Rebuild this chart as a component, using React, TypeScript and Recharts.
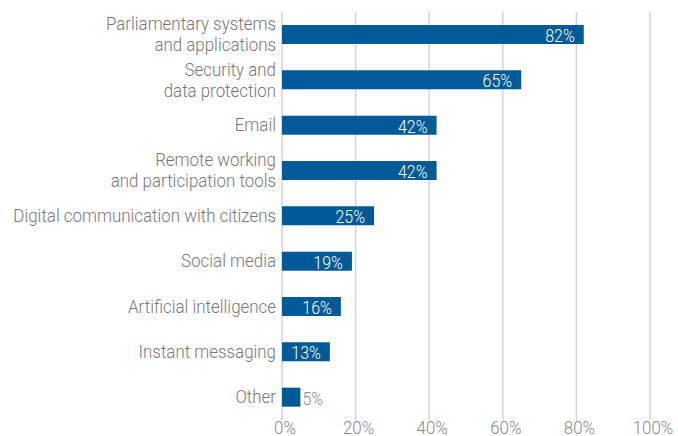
import React from "react";
import { BarChart, Bar, XAxis, YAxis, CartesianGrid, LabelList } from "recharts";

const categories = [
  "Parliamentary systems\nand applications",
  "Security and\ndata protection",
  "Email",
  "Remote working\nand participation tools",
  "Digital communication with citizens",
  "Social media",
  "Artificial intelligence",
  "Instant messaging",
  "Other",
];
const values = [82, 65, 42, 42, 25, 19, 16, 13, 5];
const xTicks = [0, 20, 40, 60, 80, 100];

const data = categories.map((name, i) => ({ name, value: values[i] }));

const FONT = "Roboto, 'Noto Sans', sans-serif";
const BAR_COLOR = "#005a97";
const SX = 0.89;

const CText = ({ x, y, anchor, fill, size, children, dy = 0 }: any) => (
  <g transform={`translate(${x},${y}) scale(${SX},1)`}>
    <text x={0} y={dy} textAnchor={anchor} fill={fill} fontSize={size} fontFamily={FONT} fontWeight={300}>
      {children}
    </text>
  </g>
);

const YTick = (props: any) => {
  const { x, y, payload } = props;
  const lines = String(payload.value).split("\n");
  const lh = 21;
  const start = -((lines.length - 1) * lh) / 2;
  return (
    <g>
      {lines.map((l, i) => (
        <CText key={i} x={x} y={y + start + i * lh} dy={6} anchor="end" fill="#777777" size={19}>
          {l}
        </CText>
      ))}
    </g>
  );
};

const XTick = (props: any) => {
  const { x, y, payload } = props;
  return (
    <CText x={x + 3} y={y} dy={13.5} anchor="middle" fill="#8a8a8a" size={19}>
      {`${payload.value}%`}
    </CText>
  );
};

const ValueLabel = (props: any) => {
  const { x, y, width, height, value } = props;
  const cy = y + height / 2;
  if (value < 10) {
    return (
      <CText x={x + width + 2} y={cy} dy={7.5} anchor="start" fill="#8a8a8a" size={18}>
        {`${value}%`}
      </CText>
    );
  }
  return (
    <CText x={x + width - 9} y={cy} dy={7.5} anchor="end" fill="#ffffff" size={18}>
      {`${value}%`}
    </CText>
  );
};

export default function App() {
  return (
    <div style={{ position: "absolute", left: 0, top: 0, width: 678, height: 436, background: "#fff" }}>
      <BarChart
        width={678}
        height={436}
        data={data}
        layout="vertical"
        margin={{ top: 12, right: 28, bottom: 0, left: 0 }}
        barSize={19}
      >
        <CartesianGrid horizontal={false} vertical={true} stroke="#d4d4d4" strokeWidth={1.5} />
        <XAxis
          type="number"
          domain={[0, 100]}
          ticks={xTicks}
          axisLine={false}
          tickLine={false}
          tickSize={0}
          tickMargin={0}
          height={16}
          tick={<XTick />}
          interval={0}
        />
        <YAxis
          type="category"
          dataKey="name"
          width={282}
          axisLine={false}
          tickLine={false}
          tickSize={0}
          tickMargin={6}
          tick={<YTick />}
          interval={0}
        />
        <Bar dataKey="value" fill={BAR_COLOR} isAnimationActive={false}>
          <LabelList dataKey="value" content={<ValueLabel />} />
        </Bar>
      </BarChart>
    </div>
  );
}
